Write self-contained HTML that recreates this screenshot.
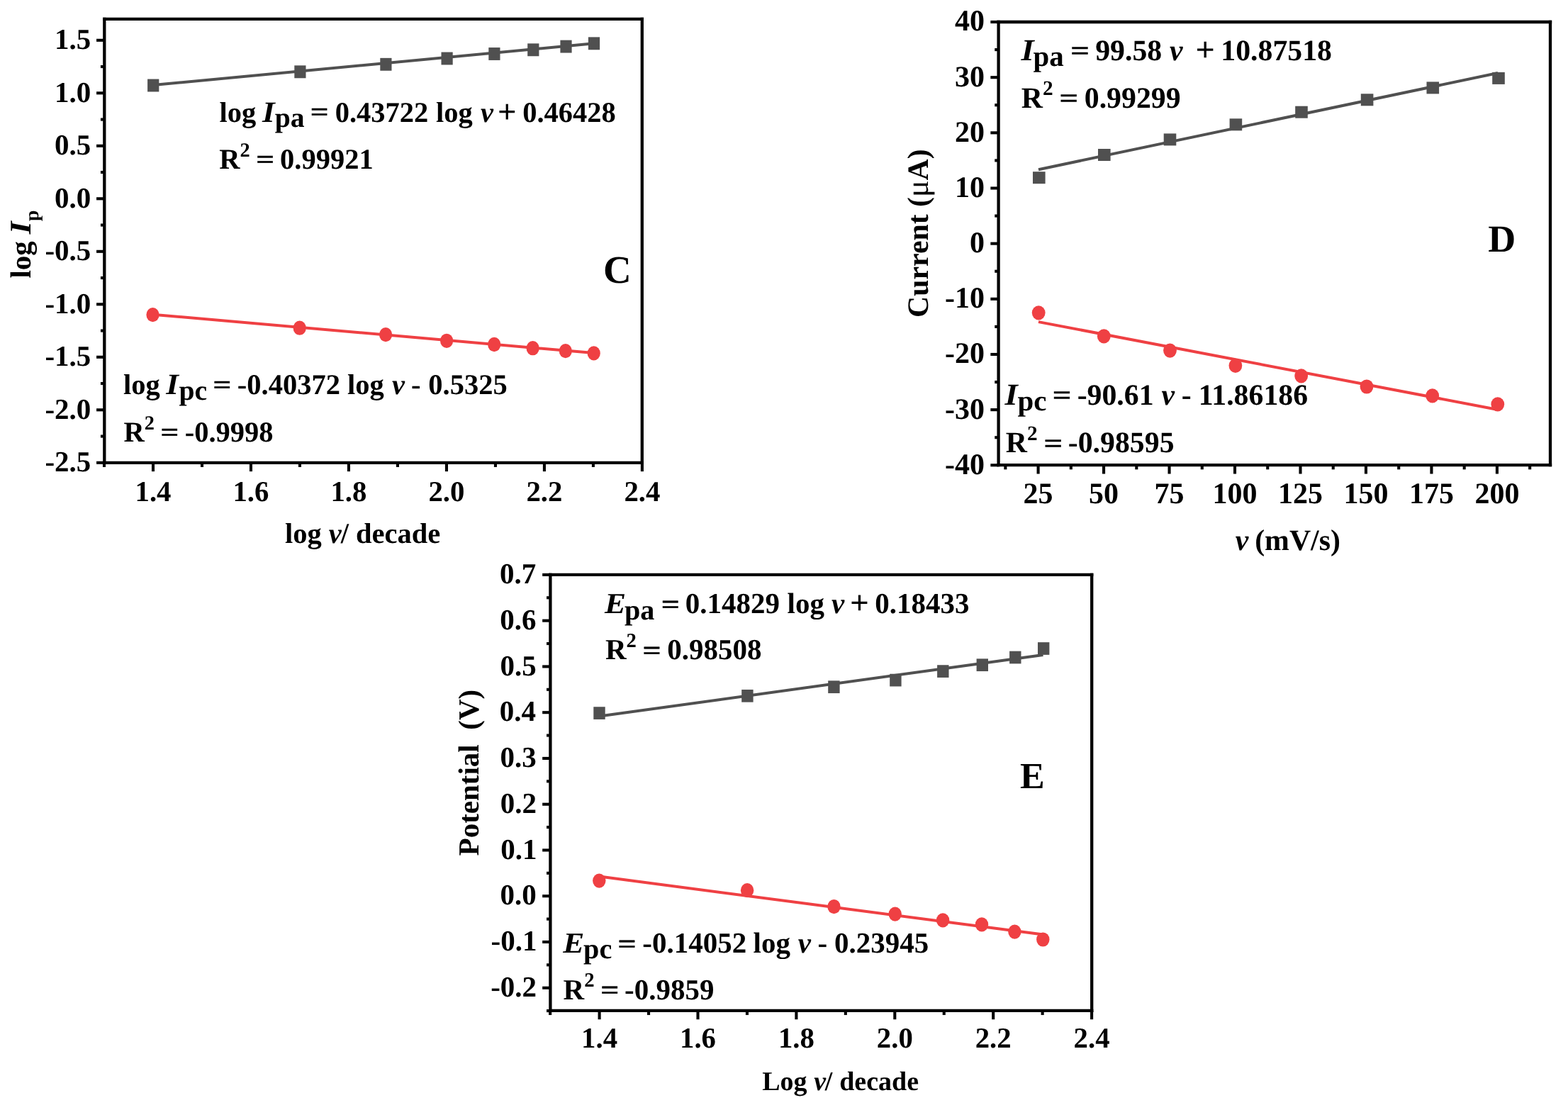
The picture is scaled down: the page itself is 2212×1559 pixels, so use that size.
<!DOCTYPE html>
<html><head><meta charset="utf-8"><title>Figure</title>
<style>
html,body{margin:0;padding:0;background:#fff;}
svg{display:block;}
text{font-family:"Liberation Serif","Times New Roman",serif;font-weight:bold;fill:#000;text-rendering:geometricPrecision;}
</style></head>
<body>
<svg width="2212" height="1559" viewBox="0 0 2212 1559">
<rect width="2212" height="1559" fill="#fff"/>
<line x1="145.15" y1="26.9" x2="907.95" y2="26.9" stroke="#000" stroke-width="4.3"/>
<line x1="145.15" y1="652.8" x2="907.95" y2="652.8" stroke="#000" stroke-width="4.3"/>
<line x1="147.3" y1="24.75" x2="147.3" y2="654.95" stroke="#000" stroke-width="4.3"/>
<line x1="905.8" y1="24.75" x2="905.8" y2="654.95" stroke="#000" stroke-width="4.3"/>
<line x1="136.05" y1="652.80" x2="147.30" y2="652.80" stroke="#000" stroke-width="4.1"/>
<line x1="136.05" y1="578.30" x2="147.30" y2="578.30" stroke="#000" stroke-width="4.1"/>
<line x1="136.05" y1="503.80" x2="147.30" y2="503.80" stroke="#000" stroke-width="4.1"/>
<line x1="136.05" y1="429.30" x2="147.30" y2="429.30" stroke="#000" stroke-width="4.1"/>
<line x1="136.05" y1="354.80" x2="147.30" y2="354.80" stroke="#000" stroke-width="4.1"/>
<line x1="136.05" y1="280.30" x2="147.30" y2="280.30" stroke="#000" stroke-width="4.1"/>
<line x1="136.05" y1="205.80" x2="147.30" y2="205.80" stroke="#000" stroke-width="4.1"/>
<line x1="136.05" y1="131.30" x2="147.30" y2="131.30" stroke="#000" stroke-width="4.1"/>
<line x1="136.05" y1="56.80" x2="147.30" y2="56.80" stroke="#000" stroke-width="4.1"/>
<line x1="141.95" y1="615.55" x2="147.30" y2="615.55" stroke="#000" stroke-width="4.1"/>
<line x1="141.95" y1="541.05" x2="147.30" y2="541.05" stroke="#000" stroke-width="4.1"/>
<line x1="141.95" y1="466.55" x2="147.30" y2="466.55" stroke="#000" stroke-width="4.1"/>
<line x1="141.95" y1="392.05" x2="147.30" y2="392.05" stroke="#000" stroke-width="4.1"/>
<line x1="141.95" y1="317.55" x2="147.30" y2="317.55" stroke="#000" stroke-width="4.1"/>
<line x1="141.95" y1="243.05" x2="147.30" y2="243.05" stroke="#000" stroke-width="4.1"/>
<line x1="141.95" y1="168.55" x2="147.30" y2="168.55" stroke="#000" stroke-width="4.1"/>
<line x1="141.95" y1="94.05" x2="147.30" y2="94.05" stroke="#000" stroke-width="4.1"/>
<line x1="216.00" y1="652.80" x2="216.00" y2="665.15" stroke="#000" stroke-width="4.1"/>
<line x1="353.98" y1="652.80" x2="353.98" y2="665.15" stroke="#000" stroke-width="4.1"/>
<line x1="491.96" y1="652.80" x2="491.96" y2="665.15" stroke="#000" stroke-width="4.1"/>
<line x1="629.94" y1="652.80" x2="629.94" y2="665.15" stroke="#000" stroke-width="4.1"/>
<line x1="767.92" y1="652.80" x2="767.92" y2="665.15" stroke="#000" stroke-width="4.1"/>
<line x1="905.90" y1="652.80" x2="905.90" y2="665.15" stroke="#000" stroke-width="4.1"/>
<line x1="147.01" y1="652.80" x2="147.01" y2="658.95" stroke="#000" stroke-width="4.1"/>
<line x1="284.99" y1="652.80" x2="284.99" y2="658.95" stroke="#000" stroke-width="4.1"/>
<line x1="422.97" y1="652.80" x2="422.97" y2="658.95" stroke="#000" stroke-width="4.1"/>
<line x1="560.95" y1="652.80" x2="560.95" y2="658.95" stroke="#000" stroke-width="4.1"/>
<line x1="698.93" y1="652.80" x2="698.93" y2="658.95" stroke="#000" stroke-width="4.1"/>
<line x1="836.91" y1="652.80" x2="836.91" y2="658.95" stroke="#000" stroke-width="4.1"/>
<text x="63.41" y="665.10" font-size="41">-2.5</text>
<text x="63.45" y="590.60" font-size="41">-2.0</text>
<text x="63.41" y="516.10" font-size="41">-1.5</text>
<text x="63.45" y="441.60" font-size="41">-1.0</text>
<text x="63.41" y="367.10" font-size="41">-0.5</text>
<text x="77.11" y="292.60" font-size="41">0.0</text>
<text x="77.07" y="218.10" font-size="41">0.5</text>
<text x="77.11" y="143.60" font-size="41">1.0</text>
<text x="77.07" y="69.10" font-size="41">1.5</text>
<text x="216.00" y="706.8" text-anchor="middle" font-size="40.8">1.4</text>
<text x="353.98" y="706.8" text-anchor="middle" font-size="40.8">1.6</text>
<text x="491.96" y="706.8" text-anchor="middle" font-size="40.8">1.8</text>
<text x="629.94" y="706.8" text-anchor="middle" font-size="40.8">2.0</text>
<text x="767.92" y="706.8" text-anchor="middle" font-size="40.8">2.2</text>
<text x="905.90" y="706.8" text-anchor="middle" font-size="40.8">2.4</text>
<line x1="216.20" y1="120.10" x2="838.00" y2="61.20" stroke="#505050" stroke-width="4.0"/>
<rect x="208.10" y="111.55" width="16.2" height="17.9" fill="#505050"/>
<rect x="415.30" y="92.35" width="16.2" height="17.9" fill="#505050"/>
<rect x="536.30" y="81.85" width="16.2" height="17.9" fill="#505050"/>
<rect x="622.50" y="73.55" width="16.2" height="17.9" fill="#505050"/>
<rect x="689.30" y="67.05" width="16.2" height="17.9" fill="#505050"/>
<rect x="744.20" y="61.35" width="16.2" height="17.9" fill="#505050"/>
<rect x="790.40" y="56.65" width="16.2" height="17.9" fill="#505050"/>
<rect x="829.90" y="52.35" width="16.2" height="17.9" fill="#505050"/>
<line x1="215.50" y1="443.70" x2="837.70" y2="498.10" stroke="#EF4043" stroke-width="4.0"/>
<ellipse cx="215.50" cy="444.10" rx="9.1" ry="10.15" fill="#EF4043"/>
<ellipse cx="422.70" cy="462.70" rx="9.1" ry="10.15" fill="#EF4043"/>
<ellipse cx="544.10" cy="472.10" rx="9.1" ry="10.15" fill="#EF4043"/>
<ellipse cx="630.10" cy="480.80" rx="9.1" ry="10.15" fill="#EF4043"/>
<ellipse cx="697.20" cy="486.00" rx="9.1" ry="10.15" fill="#EF4043"/>
<ellipse cx="751.60" cy="491.20" rx="9.1" ry="10.15" fill="#EF4043"/>
<ellipse cx="797.80" cy="495.10" rx="9.1" ry="10.15" fill="#EF4043"/>
<ellipse cx="837.70" cy="498.40" rx="9.1" ry="10.15" fill="#EF4043"/>
<text x="309.39" y="171.50" font-size="40.5">log</text>
<text transform="translate(370.05,171.50) scale(1.12,1.03)" font-size="40.5" font-style="italic">I</text>
<text x="387.78" y="179.30" font-size="39.69">pa</text>
<text transform="translate(450.70,158.18) scale(1.12,0.9)" y="13.45" text-anchor="middle" font-size="40.5" stroke="#000" stroke-width="0.5">=</text>
<text x="472.66" y="171.50" font-size="40.5">0.43722</text>
<text x="614.89" y="171.50" font-size="40.5">log</text>
<text x="678.04" y="171.50" font-size="40.5" font-style="italic">v</text>
<text x="715.30" y="172.63" text-anchor="middle" font-size="46.57">+</text>
<text x="737.16" y="171.50" font-size="40.5">0.46428</text>
<text x="309.31" y="237.90" font-size="40.5">R</text>
<text x="338.41" y="220.89" font-size="28.35">2</text>
<text transform="translate(374.04,224.58) scale(1.12,0.9)" y="13.45" text-anchor="middle" font-size="40.5" stroke="#000" stroke-width="0.5">=</text>
<text x="395.06" y="237.90" font-size="40.5">0.99921</text>
<text x="173.99" y="556.10" font-size="40.5">log</text>
<text transform="translate(234.35,556.10) scale(1.12,1.03)" font-size="40.5" font-style="italic">I</text>
<text x="252.38" y="564.20" font-size="39.69">pc</text>
<text transform="translate(313.30,542.78) scale(1.12,0.9)" y="13.45" text-anchor="middle" font-size="40.5" stroke="#000" stroke-width="0.5">=</text>
<text x="334.80" y="556.10" font-size="40.5">-0.40372</text>
<text x="490.09" y="556.10" font-size="40.5">log</text>
<text x="552.94" y="556.10" font-size="40.5" font-style="italic">v</text>
<text x="580.06" y="556.10" font-size="40.5">-</text>
<text x="604.26" y="556.10" font-size="40.5">0.5325</text>
<text x="174.51" y="623.40" font-size="40.5">R</text>
<text x="203.78" y="606.39" font-size="28.35">2</text>
<text transform="translate(239.39,610.08) scale(1.12,0.9)" y="13.45" text-anchor="middle" font-size="40.5" stroke="#000" stroke-width="0.5">=</text>
<text x="260.68" y="623.40" font-size="40.5">-0.9998</text>
<text x="851.10" y="398.60" font-size="55">C</text>
<text x="401.89" y="765.80" font-size="40.5">log</text>
<text x="463.64" y="765.80" font-size="40.5" font-style="italic">v</text>
<text x="480.72" y="765.80" font-size="40.5">/</text>
<text x="501.94" y="765.80" font-size="40.5">decade</text>
<g transform="translate(43.0,392.6) rotate(-90)"><text x="0" y="0" font-size="41">log</text><text transform="translate(62.4,0) scale(1.12,1.03)" font-size="41" font-style="italic">I</text><text x="80.7" y="10.7" font-size="27.5">p</text></g>
<line x1="1406.45" y1="31.0" x2="2189.15" y2="31.0" stroke="#000" stroke-width="4.3"/>
<line x1="1406.45" y1="656.2" x2="2189.15" y2="656.2" stroke="#000" stroke-width="4.3"/>
<line x1="1408.6" y1="28.85" x2="1408.6" y2="658.35" stroke="#000" stroke-width="4.3"/>
<line x1="2187.0" y1="28.85" x2="2187.0" y2="658.35" stroke="#000" stroke-width="4.3"/>
<line x1="1397.35" y1="656.29" x2="1408.60" y2="656.29" stroke="#000" stroke-width="4.1"/>
<line x1="1397.35" y1="578.13" x2="1408.60" y2="578.13" stroke="#000" stroke-width="4.1"/>
<line x1="1397.35" y1="499.97" x2="1408.60" y2="499.97" stroke="#000" stroke-width="4.1"/>
<line x1="1397.35" y1="421.81" x2="1408.60" y2="421.81" stroke="#000" stroke-width="4.1"/>
<line x1="1397.35" y1="343.65" x2="1408.60" y2="343.65" stroke="#000" stroke-width="4.1"/>
<line x1="1397.35" y1="265.49" x2="1408.60" y2="265.49" stroke="#000" stroke-width="4.1"/>
<line x1="1397.35" y1="187.33" x2="1408.60" y2="187.33" stroke="#000" stroke-width="4.1"/>
<line x1="1397.35" y1="109.17" x2="1408.60" y2="109.17" stroke="#000" stroke-width="4.1"/>
<line x1="1397.35" y1="31.01" x2="1408.60" y2="31.01" stroke="#000" stroke-width="4.1"/>
<line x1="1403.25" y1="617.21" x2="1408.60" y2="617.21" stroke="#000" stroke-width="4.1"/>
<line x1="1403.25" y1="539.05" x2="1408.60" y2="539.05" stroke="#000" stroke-width="4.1"/>
<line x1="1403.25" y1="460.89" x2="1408.60" y2="460.89" stroke="#000" stroke-width="4.1"/>
<line x1="1403.25" y1="382.73" x2="1408.60" y2="382.73" stroke="#000" stroke-width="4.1"/>
<line x1="1403.25" y1="304.57" x2="1408.60" y2="304.57" stroke="#000" stroke-width="4.1"/>
<line x1="1403.25" y1="226.41" x2="1408.60" y2="226.41" stroke="#000" stroke-width="4.1"/>
<line x1="1403.25" y1="148.25" x2="1408.60" y2="148.25" stroke="#000" stroke-width="4.1"/>
<line x1="1403.25" y1="70.09" x2="1408.60" y2="70.09" stroke="#000" stroke-width="4.1"/>
<line x1="1464.60" y1="656.20" x2="1464.60" y2="668.55" stroke="#000" stroke-width="4.1"/>
<line x1="1557.07" y1="656.20" x2="1557.07" y2="668.55" stroke="#000" stroke-width="4.1"/>
<line x1="1649.55" y1="656.20" x2="1649.55" y2="668.55" stroke="#000" stroke-width="4.1"/>
<line x1="1742.02" y1="656.20" x2="1742.02" y2="668.55" stroke="#000" stroke-width="4.1"/>
<line x1="1834.50" y1="656.20" x2="1834.50" y2="668.55" stroke="#000" stroke-width="4.1"/>
<line x1="1926.97" y1="656.20" x2="1926.97" y2="668.55" stroke="#000" stroke-width="4.1"/>
<line x1="2019.45" y1="656.20" x2="2019.45" y2="668.55" stroke="#000" stroke-width="4.1"/>
<line x1="2111.92" y1="656.20" x2="2111.92" y2="668.55" stroke="#000" stroke-width="4.1"/>
<line x1="1418.36" y1="656.20" x2="1418.36" y2="662.35" stroke="#000" stroke-width="4.1"/>
<line x1="1510.84" y1="656.20" x2="1510.84" y2="662.35" stroke="#000" stroke-width="4.1"/>
<line x1="1603.31" y1="656.20" x2="1603.31" y2="662.35" stroke="#000" stroke-width="4.1"/>
<line x1="1695.79" y1="656.20" x2="1695.79" y2="662.35" stroke="#000" stroke-width="4.1"/>
<line x1="1788.26" y1="656.20" x2="1788.26" y2="662.35" stroke="#000" stroke-width="4.1"/>
<line x1="1880.74" y1="656.20" x2="1880.74" y2="662.35" stroke="#000" stroke-width="4.1"/>
<line x1="1973.21" y1="656.20" x2="1973.21" y2="662.35" stroke="#000" stroke-width="4.1"/>
<line x1="2065.69" y1="656.20" x2="2065.69" y2="662.35" stroke="#000" stroke-width="4.1"/>
<line x1="2158.16" y1="656.20" x2="2158.16" y2="662.35" stroke="#000" stroke-width="4.1"/>
<text x="1333.11" y="668.69" font-size="42">-40</text>
<text x="1333.11" y="590.53" font-size="42">-30</text>
<text x="1333.11" y="512.37" font-size="42">-20</text>
<text x="1333.11" y="434.21" font-size="42">-10</text>
<text x="1368.10" y="356.05" font-size="42">0</text>
<text x="1347.10" y="277.89" font-size="42">10</text>
<text x="1347.10" y="199.73" font-size="42">20</text>
<text x="1347.10" y="121.57" font-size="42">30</text>
<text x="1347.10" y="43.41" font-size="42">40</text>
<text x="1464.60" y="709.5" text-anchor="middle" font-size="42">25</text>
<text x="1557.07" y="709.5" text-anchor="middle" font-size="42">50</text>
<text x="1649.55" y="709.5" text-anchor="middle" font-size="42">75</text>
<text x="1742.02" y="709.5" text-anchor="middle" font-size="42">100</text>
<text x="1834.50" y="709.5" text-anchor="middle" font-size="42">125</text>
<text x="1926.97" y="709.5" text-anchor="middle" font-size="42">150</text>
<text x="2019.45" y="709.5" text-anchor="middle" font-size="42">175</text>
<text x="2111.92" y="709.5" text-anchor="middle" font-size="42">200</text>
<line x1="1465.00" y1="239.20" x2="2113.00" y2="103.00" stroke="#505050" stroke-width="4.0"/>
<rect x="1457.00" y="242.20" width="17.6" height="17.0" fill="#505050"/>
<rect x="1549.00" y="210.00" width="17.6" height="17.0" fill="#505050"/>
<rect x="1641.70" y="188.40" width="17.6" height="17.0" fill="#505050"/>
<rect x="1734.60" y="167.30" width="17.6" height="17.0" fill="#505050"/>
<rect x="1827.20" y="149.70" width="17.6" height="17.0" fill="#505050"/>
<rect x="1919.80" y="132.30" width="17.6" height="17.0" fill="#505050"/>
<rect x="2012.50" y="115.40" width="17.6" height="17.0" fill="#505050"/>
<rect x="2105.20" y="101.90" width="17.6" height="17.0" fill="#505050"/>
<line x1="1465.00" y1="454.10" x2="2113.00" y2="578.00" stroke="#EF4043" stroke-width="4.0"/>
<ellipse cx="1465.20" cy="441.30" rx="9.4" ry="10.1" fill="#EF4043"/>
<ellipse cx="1557.30" cy="474.40" rx="9.4" ry="10.1" fill="#EF4043"/>
<ellipse cx="1650.50" cy="494.60" rx="9.4" ry="10.1" fill="#EF4043"/>
<ellipse cx="1742.90" cy="515.80" rx="9.4" ry="10.1" fill="#EF4043"/>
<ellipse cx="1835.70" cy="530.40" rx="9.4" ry="10.1" fill="#EF4043"/>
<ellipse cx="1928.00" cy="545.50" rx="9.4" ry="10.1" fill="#EF4043"/>
<ellipse cx="2020.70" cy="558.40" rx="9.4" ry="10.1" fill="#EF4043"/>
<ellipse cx="2112.80" cy="570.30" rx="9.4" ry="10.1" fill="#EF4043"/>
<text transform="translate(1440.47,84.70) scale(1.12,1.03)" font-size="41.8" font-style="italic">I</text>
<text x="1457.47" y="92.70" font-size="40.964">pa</text>
<text transform="translate(1523.50,71.41) scale(1.12,0.9)" y="13.88" text-anchor="middle" font-size="41.8" stroke="#000" stroke-width="0.5">=</text>
<text x="1545.17" y="84.70" font-size="41.8">99.58</text>
<text x="1650.12" y="84.70" font-size="41.8" font-style="italic">v</text>
<text x="1700.20" y="85.86" text-anchor="middle" font-size="48.07">+</text>
<text x="1722.26" y="84.70" font-size="41.8">10.87518</text>
<text x="1440.69" y="151.80" font-size="41.8">R</text>
<text x="1470.97" y="134.24" font-size="29.26">2</text>
<text transform="translate(1507.89,138.51) scale(1.12,0.9)" y="13.88" text-anchor="middle" font-size="41.8" stroke="#000" stroke-width="0.5">=</text>
<text x="1529.75" y="151.80" font-size="41.8">0.99299</text>
<text transform="translate(1417.57,570.80) scale(1.12,1.03)" font-size="41.8" font-style="italic">I</text>
<text x="1435.47" y="579.30" font-size="40.964">pc</text>
<text transform="translate(1498.20,557.51) scale(1.12,0.9)" y="13.88" text-anchor="middle" font-size="41.8" stroke="#000" stroke-width="0.5">=</text>
<text x="1519.65" y="570.80" font-size="41.8">-90.61</text>
<text x="1638.42" y="570.80" font-size="41.8" font-style="italic">v</text>
<text x="1666.74" y="570.80" font-size="41.8">-</text>
<text x="1690.66" y="570.80" font-size="41.8">11.86186</text>
<text x="1418.79" y="638.30" font-size="41.8">R</text>
<text x="1448.99" y="620.74" font-size="29.26">2</text>
<text transform="translate(1485.75,625.01) scale(1.12,0.9)" y="13.88" text-anchor="middle" font-size="41.8" stroke="#000" stroke-width="0.5">=</text>
<text x="1506.78" y="638.30" font-size="41.8">-0.98595</text>
<text x="2099.33" y="355.30" font-size="54">D</text>
<text x="1742.72" y="776.10" font-size="41.8" font-style="italic">v</text>
<text x="1770.16" y="776.10" font-size="41.8">(mV/s)</text>
<text transform="translate(1308.6,447.9) rotate(-90)" font-size="41.8">Current (<tspan font-weight="normal" font-size="44">μ</tspan>A)</text>
<line x1="774.25" y1="810.9" x2="1542.35" y2="810.9" stroke="#000" stroke-width="4.3"/>
<line x1="774.25" y1="1425.9" x2="1542.35" y2="1425.9" stroke="#000" stroke-width="4.3"/>
<line x1="776.4" y1="808.75" x2="776.4" y2="1428.05" stroke="#000" stroke-width="4.3"/>
<line x1="1540.2" y1="808.75" x2="1540.2" y2="1428.05" stroke="#000" stroke-width="4.3"/>
<line x1="765.15" y1="1393.74" x2="776.40" y2="1393.74" stroke="#000" stroke-width="4.1"/>
<line x1="765.15" y1="1328.98" x2="776.40" y2="1328.98" stroke="#000" stroke-width="4.1"/>
<line x1="765.15" y1="1264.22" x2="776.40" y2="1264.22" stroke="#000" stroke-width="4.1"/>
<line x1="765.15" y1="1199.46" x2="776.40" y2="1199.46" stroke="#000" stroke-width="4.1"/>
<line x1="765.15" y1="1134.70" x2="776.40" y2="1134.70" stroke="#000" stroke-width="4.1"/>
<line x1="765.15" y1="1069.94" x2="776.40" y2="1069.94" stroke="#000" stroke-width="4.1"/>
<line x1="765.15" y1="1005.18" x2="776.40" y2="1005.18" stroke="#000" stroke-width="4.1"/>
<line x1="765.15" y1="940.42" x2="776.40" y2="940.42" stroke="#000" stroke-width="4.1"/>
<line x1="765.15" y1="875.66" x2="776.40" y2="875.66" stroke="#000" stroke-width="4.1"/>
<line x1="765.15" y1="810.90" x2="776.40" y2="810.90" stroke="#000" stroke-width="4.1"/>
<line x1="771.05" y1="1426.12" x2="776.40" y2="1426.12" stroke="#000" stroke-width="4.1"/>
<line x1="771.05" y1="1361.36" x2="776.40" y2="1361.36" stroke="#000" stroke-width="4.1"/>
<line x1="771.05" y1="1296.60" x2="776.40" y2="1296.60" stroke="#000" stroke-width="4.1"/>
<line x1="771.05" y1="1231.84" x2="776.40" y2="1231.84" stroke="#000" stroke-width="4.1"/>
<line x1="771.05" y1="1167.08" x2="776.40" y2="1167.08" stroke="#000" stroke-width="4.1"/>
<line x1="771.05" y1="1102.32" x2="776.40" y2="1102.32" stroke="#000" stroke-width="4.1"/>
<line x1="771.05" y1="1037.56" x2="776.40" y2="1037.56" stroke="#000" stroke-width="4.1"/>
<line x1="771.05" y1="972.80" x2="776.40" y2="972.80" stroke="#000" stroke-width="4.1"/>
<line x1="771.05" y1="908.04" x2="776.40" y2="908.04" stroke="#000" stroke-width="4.1"/>
<line x1="771.05" y1="843.28" x2="776.40" y2="843.28" stroke="#000" stroke-width="4.1"/>
<line x1="845.60" y1="1425.90" x2="845.60" y2="1438.25" stroke="#000" stroke-width="4.1"/>
<line x1="984.50" y1="1425.90" x2="984.50" y2="1438.25" stroke="#000" stroke-width="4.1"/>
<line x1="1123.40" y1="1425.90" x2="1123.40" y2="1438.25" stroke="#000" stroke-width="4.1"/>
<line x1="1262.30" y1="1425.90" x2="1262.30" y2="1438.25" stroke="#000" stroke-width="4.1"/>
<line x1="1401.20" y1="1425.90" x2="1401.20" y2="1438.25" stroke="#000" stroke-width="4.1"/>
<line x1="1540.10" y1="1425.90" x2="1540.10" y2="1438.25" stroke="#000" stroke-width="4.1"/>
<line x1="776.15" y1="1425.90" x2="776.15" y2="1432.05" stroke="#000" stroke-width="4.1"/>
<line x1="915.05" y1="1425.90" x2="915.05" y2="1432.05" stroke="#000" stroke-width="4.1"/>
<line x1="1053.95" y1="1425.90" x2="1053.95" y2="1432.05" stroke="#000" stroke-width="4.1"/>
<line x1="1192.85" y1="1425.90" x2="1192.85" y2="1432.05" stroke="#000" stroke-width="4.1"/>
<line x1="1331.75" y1="1425.90" x2="1331.75" y2="1432.05" stroke="#000" stroke-width="4.1"/>
<line x1="1470.65" y1="1425.90" x2="1470.65" y2="1432.05" stroke="#000" stroke-width="4.1"/>
<text x="692.16" y="1405.84" font-size="41">-0.2</text>
<text x="692.53" y="1341.08" font-size="41">-0.1</text>
<text x="705.61" y="1276.32" font-size="41">0.0</text>
<text x="706.18" y="1211.56" font-size="41">0.1</text>
<text x="705.81" y="1146.80" font-size="41">0.2</text>
<text x="705.44" y="1082.04" font-size="41">0.3</text>
<text x="704.83" y="1017.28" font-size="41">0.4</text>
<text x="705.57" y="952.52" font-size="41">0.5</text>
<text x="705.24" y="887.76" font-size="41">0.6</text>
<text x="705.03" y="823.00" font-size="41">0.7</text>
<text x="845.60" y="1478.4" text-anchor="middle" font-size="40.8">1.4</text>
<text x="984.50" y="1478.4" text-anchor="middle" font-size="40.8">1.6</text>
<text x="1123.40" y="1478.4" text-anchor="middle" font-size="40.8">1.8</text>
<text x="1262.30" y="1478.4" text-anchor="middle" font-size="40.8">2.0</text>
<text x="1401.20" y="1478.4" text-anchor="middle" font-size="40.8">2.2</text>
<text x="1540.10" y="1478.4" text-anchor="middle" font-size="40.8">2.4</text>
<line x1="845.50" y1="1010.60" x2="1471.50" y2="923.90" stroke="#505050" stroke-width="4.0"/>
<rect x="837.30" y="997.25" width="16.4" height="17.7" fill="#505050"/>
<rect x="1046.20" y="972.95" width="16.4" height="17.7" fill="#505050"/>
<rect x="1168.20" y="960.35" width="16.4" height="17.7" fill="#505050"/>
<rect x="1255.20" y="950.75" width="16.4" height="17.7" fill="#505050"/>
<rect x="1322.10" y="938.25" width="16.4" height="17.7" fill="#505050"/>
<rect x="1377.60" y="929.35" width="16.4" height="17.7" fill="#505050"/>
<rect x="1424.10" y="918.65" width="16.4" height="17.7" fill="#505050"/>
<rect x="1464.00" y="906.15" width="16.4" height="17.7" fill="#505050"/>
<line x1="845.50" y1="1236.60" x2="1471.50" y2="1318.60" stroke="#EF4043" stroke-width="4.0"/>
<ellipse cx="845.30" cy="1242.60" rx="9.2" ry="10.1" fill="#EF4043"/>
<ellipse cx="1054.10" cy="1256.20" rx="9.2" ry="10.1" fill="#EF4043"/>
<ellipse cx="1176.50" cy="1279.10" rx="9.2" ry="10.1" fill="#EF4043"/>
<ellipse cx="1262.70" cy="1289.60" rx="9.2" ry="10.1" fill="#EF4043"/>
<ellipse cx="1330.10" cy="1298.40" rx="9.2" ry="10.1" fill="#EF4043"/>
<ellipse cx="1385.00" cy="1304.30" rx="9.2" ry="10.1" fill="#EF4043"/>
<ellipse cx="1431.40" cy="1314.60" rx="9.2" ry="10.1" fill="#EF4043"/>
<ellipse cx="1471.30" cy="1325.50" rx="9.2" ry="10.1" fill="#EF4043"/>
<text transform="translate(852.92,865.30) scale(1.1,1.0)" font-size="41.0" font-style="italic">E</text>
<text x="880.88" y="873.50" font-size="40.18">pa</text>
<text transform="translate(945.80,852.51) scale(1.12,0.9)" y="13.61" text-anchor="middle" font-size="41.0" stroke="#000" stroke-width="0.5">=</text>
<text x="966.84" y="865.30" font-size="41.0">0.14829</text>
<text x="1110.58" y="865.30" font-size="41.0">log</text>
<text x="1173.03" y="865.30" font-size="41.0" font-style="italic">v</text>
<text x="1212.35" y="866.44" text-anchor="middle" font-size="47.15">+</text>
<text x="1234.14" y="865.30" font-size="41.0">0.18433</text>
<text x="853.90" y="930.30" font-size="41.0">R</text>
<text x="883.53" y="913.08" font-size="28.7">2</text>
<text transform="translate(919.59,917.51) scale(1.12,0.9)" y="13.61" text-anchor="middle" font-size="41.0" stroke="#000" stroke-width="0.5">=</text>
<text x="941.20" y="930.30" font-size="41.0">0.98508</text>
<text transform="translate(794.22,1344.20) scale(1.1,1.0)" font-size="41.0" font-style="italic">E</text>
<text x="823.08" y="1351.80" font-size="40.18">pc</text>
<text transform="translate(884.70,1331.41) scale(1.12,0.9)" y="13.61" text-anchor="middle" font-size="41.0" stroke="#000" stroke-width="0.5">=</text>
<text x="906.28" y="1344.20" font-size="41.0">-0.14052</text>
<text x="1062.58" y="1344.20" font-size="41.0">log</text>
<text x="1125.73" y="1344.20" font-size="41.0" font-style="italic">v</text>
<text x="1153.42" y="1344.20" font-size="41.0">-</text>
<text x="1177.04" y="1344.20" font-size="41.0">0.23945</text>
<text x="794.60" y="1409.50" font-size="41.0">R</text>
<text x="824.19" y="1392.28" font-size="28.7">2</text>
<text transform="translate(860.27,1396.71) scale(1.12,0.9)" y="13.61" text-anchor="middle" font-size="41.0" stroke="#000" stroke-width="0.5">=</text>
<text x="881.08" y="1409.50" font-size="41.0">-0.9859</text>
<text x="1438.92" y="1111.60" font-size="52">E</text>
<text x="1075.15" y="1538.30" font-size="38.0">Log</text>
<text x="1148.36" y="1538.30" font-size="38.0" font-style="italic">v</text>
<text x="1163.82" y="1538.30" font-size="38.0">/</text>
<text x="1184.14" y="1538.30" font-size="38.0">decade</text>
<text transform="translate(675.3,1207.4) rotate(-90)" font-size="41">Potential  (V)</text>
</svg>
</body></html>
